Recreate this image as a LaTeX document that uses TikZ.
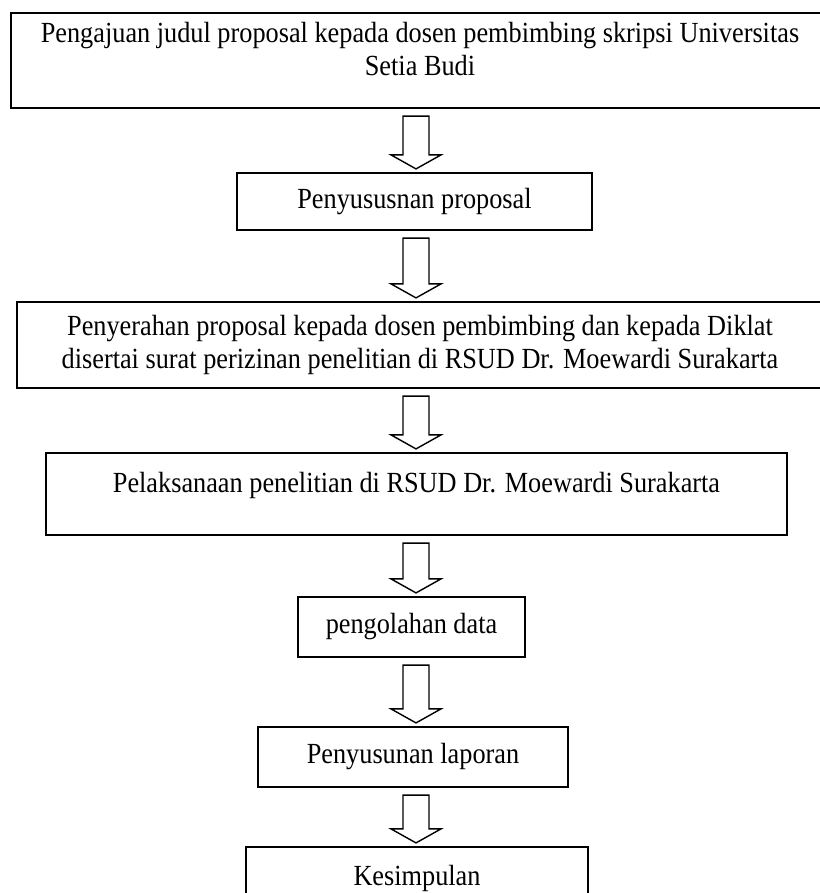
\documentclass[tikz,border=0pt]{standalone}
\usepackage{fontspec}
\setmainfont[FakeStretch=0.9]{Liberation Serif}
\usetikzlibrary{calc,positioning}

\newcommand{\hollowarrow}[2]{%
  \draw[arrowline] let \p1=(#1.south), \p2=(#2.north), \p3=(axis) in
    (\x3-6.5pt,\y1-3.5pt) -- (\x3+6.5pt,\y1-3.5pt) -- (\x3+6.5pt,\y2+8.5pt)
    -- (\x3+12.5pt,\y2+8.5pt) -- (\x3,\y2+1.5pt) -- (\x3-12.5pt,\y2+8.5pt)
    -- (\x3-6.5pt,\y2+8.5pt) -- cycle;}

\begin{document}
\begin{tikzpicture}[x=0.5pt, y=-0.5pt,
    stepbox/.style={draw, line width=1.1pt, inner sep=0pt, align=center, font=\fontsize{14.6}{16.5}\selectfont},
    steptext/.style={inner sep=0pt, align=center, font=\fontsize{14.6}{16.5}\selectfont},
    arrowline/.style={line width=0.7pt, line join=miter}]
  \useasboundingbox (0,0) rectangle (819,893);
  \coordinate (axis) at (416,0);

  \node[stepbox, minimum width=409pt, minimum height=47.5pt] (judul) at (420,60.5) {};
  \node[steptext, below=5pt of judul.north] (judultxt) {Pengajuan judul proposal kepada dosen pembimbing skripsi Universitas\\Setia Budi};
  \node[stepbox, minimum width=177.5pt, minimum height=28.5pt] (susun) at (414.5,201.5) {Penyususnan proposal};
  \node[stepbox, minimum width=403pt, minimum height=43pt] (serah) at (420,345) {Penyerahan proposal kepada dosen pembimbing dan kepada Diklat\\disertai surat perizinan penelitian di RSUD Dr. Moewardi Surakarta};
  \node[stepbox, minimum width=370.5pt, minimum height=41pt] (laksana) at (416.5,494) {};
  \node[steptext, below=10pt of laksana.north] (laksanatxt) {Pelaksanaan penelitian di RSUD Dr. Moewardi Surakarta};
  \node[stepbox, minimum width=113.5pt, minimum height=30pt] (olah) at (411.5,627) {pengolahan data};
  \node[stepbox, minimum width=155pt, minimum height=30pt] (laporan) at (413,757) {Penyusunan laporan};
  \node[stepbox, minimum width=171pt, minimum height=31.5pt] (simpul) at (417,878.5) {Kesimpulan};

  \hollowarrow{judul}{susun}
  \hollowarrow{susun}{serah}
  \hollowarrow{serah}{laksana}
  \hollowarrow{laksana}{olah}
  \hollowarrow{olah}{laporan}
  \hollowarrow{laporan}{simpul}
\end{tikzpicture}
\end{document}
